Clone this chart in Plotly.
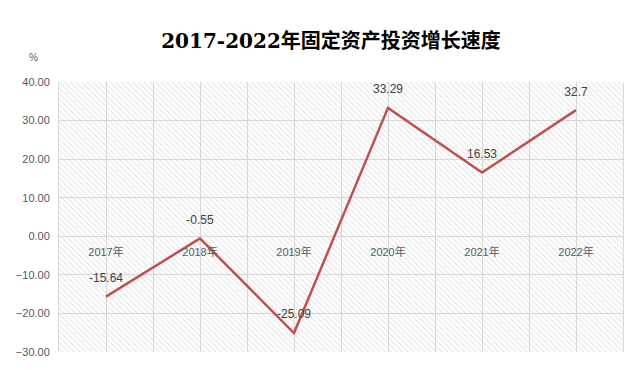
import plotly.graph_objects as go

categories = ["2017年", "2018年", "2019年", "2020年", "2021年", "2022年"]
values = [-15.64, -0.55, -25.09, 33.29, 16.53, 32.7]
labels = ["-15.64", "-0.55", "-25.09", "33.29", "16.53", "32.7"]
y_ticks = [-30, -20, -10, 0, 10, 20, 30, 40]

x_idx = list(range(len(categories)))
x_lo, x_hi = -0.5, len(categories) - 0.5
y_lo, y_hi = y_ticks[0], y_ticks[-1]

grid = "#d9d9d9"

fig = go.Figure()

# hatched plot-area background
fig.add_trace(go.Scatter(
    x=[x_lo, x_hi, x_hi, x_lo, x_lo],
    y=[y_lo, y_lo, y_hi, y_hi, y_lo],
    mode="lines", line=dict(width=0), fill="toself",
    fillcolor="rgba(0,0,0,0)",
    fillpattern=dict(shape="\\", fgcolor="#c4c4c4", bgcolor="rgba(0,0,0,0)",
                     size=4, solidity=0.25),
    hoverinfo="skip", showlegend=False,
))

fig.add_trace(go.Scatter(
    x=x_idx, y=values, mode="lines+markers+text",
    line=dict(color="#C0504D", width=2.5),
    marker=dict(size=17, color="rgba(0,0,0,0)"),
    text=labels, textposition="top center",
    textfont=dict(family="Liberation Sans, Noto Sans CJK SC", size=12, color="#404040"),
    showlegend=False, cliponaxis=False,
))

fig.update_layout(
    width=628, height=378,
    margin=dict(l=59, r=5, t=82, b=26),
    paper_bgcolor="white", plot_bgcolor="white",
    title=dict(text="<b>2017-2022年固定资产投资增长速度</b>",
               x=331 / 628, xanchor="center", y=1 - 41 / 378, yanchor="middle",
               font=dict(family="DejaVu Serif, Noto Sans CJK SC", size=20, color="#000000")),
    font=dict(family="Liberation Sans, Noto Sans CJK SC"),
    annotations=[dict(text="%", xref="paper", yref="paper", x=-0.045, y=1.09,
                      xanchor="center", yanchor="middle", showarrow=False,
                      font=dict(size=10, color="#595959"))],
)

fig.update_xaxes(
    range=[x_lo, x_hi], tickvals=x_idx, ticktext=categories,
    anchor="free", position=(0 - y_lo) / (y_hi - y_lo),
    showgrid=True, gridcolor=grid, gridwidth=1,
    minor=dict(dtick=0.5, tick0=x_lo, showgrid=True, gridcolor=grid, gridwidth=1),
    ticks="outside", ticklen=6, tickcolor="rgba(0,0,0,0)",
    tickfont=dict(size=11, color="#595959"),
    showline=False, zeroline=False, fixedrange=True,
)
fig.update_yaxes(
    range=[y_lo, y_hi], tickvals=y_ticks, tickformat=".2f",
    showgrid=True, gridcolor=grid, gridwidth=1,
    zeroline=True, zerolinecolor=grid, zerolinewidth=1,
    ticks="outside", ticklen=6, tickcolor="rgba(0,0,0,0)",
    tickfont=dict(size=11, color="#595959"),
    showline=True, linecolor=grid, mirror=True, fixedrange=True,
)

fig.write_html("out.html")
